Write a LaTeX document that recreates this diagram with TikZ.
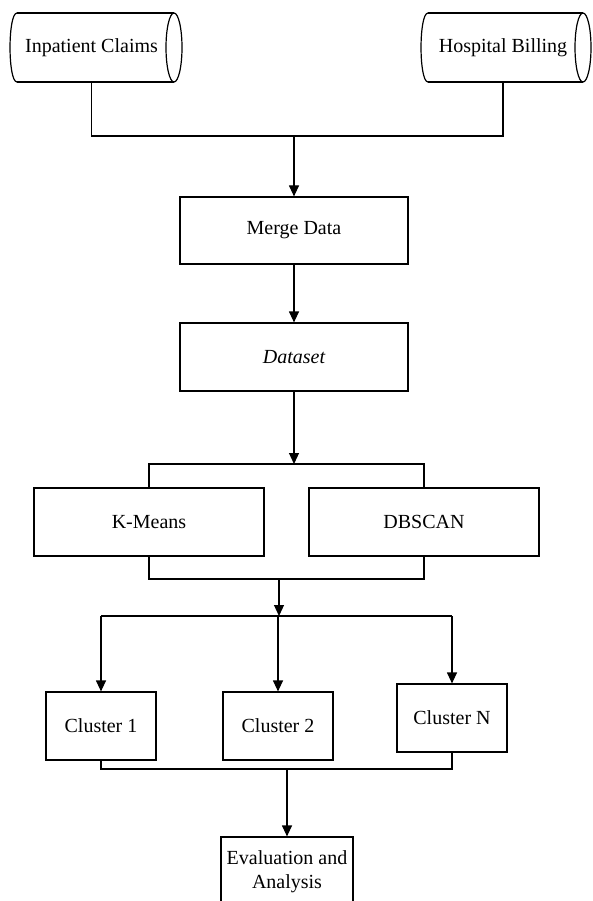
\documentclass[tikz,border=0pt]{standalone}
\usepackage{fontspec}
\setmainfont{Liberation Serif}
\usetikzlibrary{arrows.meta}
\begin{document}
\begin{tikzpicture}[x=1pt,y=-1pt,
  ln/.style={line width=1.2pt, line join=miter},
  arr/.style={ln, -{Triangle[length=11pt,width=10pt]}},
  box/.style={draw, line width=1.2pt, inner sep=0pt, align=center, font=\fontsize{20}{24}\selectfont},
  txt/.style={inner sep=0pt, align=center, font=\fontsize{20}{24}\selectfont}]
\useasboundingbox (0,0) rectangle (592,901);
% cylinders
\node[txt, minimum width=164pt, minimum height=69pt] (ic) at (91.5,47.5) {Inpatient Claims};
\draw[ln] (17,13) -- (174,13) (17,82) -- (174,82);
\draw[ln] (17,13) .. controls (7.7,13) and (7.7,82) .. (17,82);
\draw[ln] (174,47.5) ellipse (8pt and 34.5pt);
\node[txt, minimum width=162pt, minimum height=69pt] (hb) at (503,47.5) {Hospital Billing};
\draw[ln] (428,13) -- (583,13) (428,82) -- (583,82);
\draw[ln] (428,13) .. controls (418.7,13) and (418.7,82) .. (428,82);
\draw[ln] (583,47.5) ellipse (8pt and 34.5pt);
% boxes
\node[box, minimum width=228pt, minimum height=67pt] (merge) at (294,230.5) {Merge Data};
\node[box, minimum width=228pt, minimum height=68pt] (data) at (294,357) {\itshape Dataset};
\node[box, minimum width=230pt, minimum height=68pt] (km) at (149,522) {K-Means};
\node[box, minimum width=230pt, minimum height=68pt] (db) at (424,522) {DBSCAN};
\node[box, minimum width=110pt, minimum height=68pt] (c1) at (101,726) {Cluster 1};
\node[box, minimum width=110pt, minimum height=68pt] (c2) at (278,726) {Cluster 2};
\node[box, minimum width=110pt, minimum height=68pt] (cn) at (452,718) {Cluster N};
\node[box, minimum width=132pt, minimum height=70pt] (ev) at (287,872) {Evaluation and\\Analysis};
% junction points
\coordinate (j1) at (294,136);
\coordinate (j2) at (294,464);
\coordinate (j3) at (279,579);
\coordinate (j4) at (279,616);
\coordinate (j5) at (287,769);
% connectors
\draw[ln] (ic.south) |- (j1) -| (hb.south);
\draw[arr] (j1) -- (merge.north);
\draw[arr] (merge.south) -- (data.north);
\draw[arr] (data.south) -- (j2);
\draw[ln] (km.north) |- (j2) -| (db.north);
\draw[ln] (km.south) |- (j3) -| (db.south);
\draw[arr] (j3) -- (j4);
\draw[ln] (c1.north |- j4) -- (cn.north |- j4);
\draw[arr] (c1.north |- j4) -- (c1.north);
\draw[arr] (j4 -| c2.north) -- (c2.north);
\draw[arr] (cn.north |- j4) -- (cn.north);
\draw[ln] (c1.south) |- (j5) -| (cn.south);
\draw[arr] (j5) -- (ev.north);
\end{tikzpicture}
\end{document}
